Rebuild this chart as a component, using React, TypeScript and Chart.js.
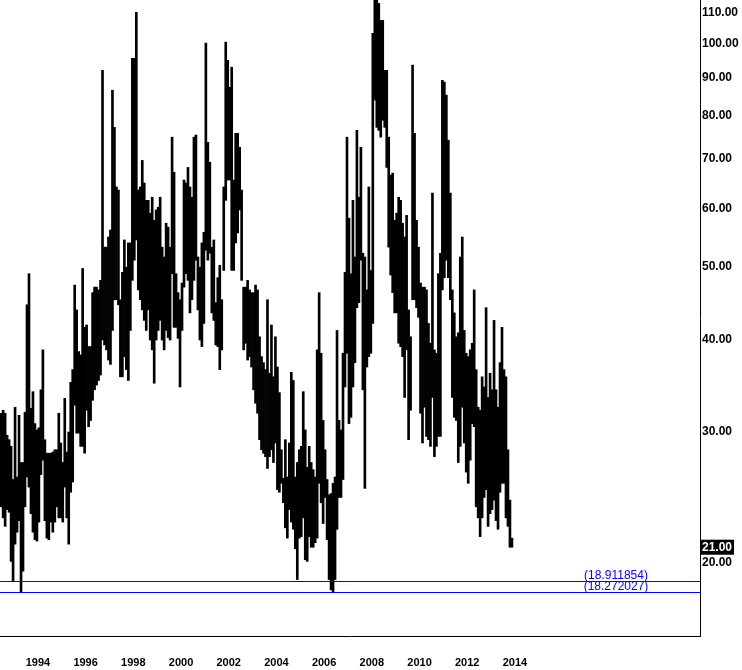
import React, { useEffect, useRef } from 'react';
import { Chart, registerables } from 'chart.js';

Chart.register(...registerables);

// Monthly high/low bars, first bar = June 1992
const startYear = 1992;
const startMonth = 6;

const highs: number[] = [
  31.8, 32.1, 31.8, 29.7, 29.3, 28.7, 25.9, 32.4, 26.1, 31.6,
  27.3, 27.3, 31.9, 44.5, 49.0, 32.3, 34.0, 30.8, 30.2, 30.4,
  34.2, 38.7, 29.3, 28.1, 28.1, 28.1, 28.2, 28.4, 28.4, 31.8,
  29.0, 27.3, 33.3, 28.2, 30.0, 35.0, 36.4, 47.3, 43.8, 38.5,
  38.1, 49.8, 41.5, 41.8, 39.1, 39.1, 46.2, 47.0, 47.0, 46.6,
  48.0, 92.0, 53.2, 53.2, 54.9, 56.1, 86.5, 77.1, 64.1, 63.5,
  45.2, 49.2, 54.4, 50.0, 53.9, 53.9, 95.5, 95.5, 110.1, 63.5,
  64.1, 69.6, 64.9, 61.5, 61.5, 59.1, 62.1, 57.8, 59.7, 60.2,
  62.1, 53.2, 51.6, 57.3, 56.6, 53.2, 74.8, 67.1, 49.0, 46.2,
  45.2, 47.6, 65.5, 64.9, 68.1, 64.1, 62.1, 74.8, 75.3, 51.6,
  50.0, 53.9, 55.7, 100.1, 73.6, 69.2, 53.2, 54.4, 44.8, 48.4,
  50.3, 45.2, 64.1, 100.4, 94.9, 87.3, 92.9, 65.5, 75.7, 75.7,
  72.5, 63.5, 47.0, 47.0, 48.0, 46.6, 46.2, 46.2, 47.3, 46.6,
  40.3, 37.9, 37.2, 36.4, 45.2, 36.0, 41.8, 35.6, 40.3, 36.7,
  33.9, 28.4, 26.0, 29.3, 26.1, 29.0, 36.1, 35.2, 26.1, 27.3,
  28.4, 28.7, 34.0, 30.2, 26.9, 28.7, 27.3, 26.7, 26.1, 38.7,
  46.2, 38.3, 31.1, 28.4, 25.9, 24.7, 24.8, 25.6, 26.1, 41.1,
  31.1, 30.2, 38.3, 49.2, 74.8, 58.2, 49.0, 61.5, 51.6, 76.4,
  62.1, 72.5, 52.2, 51.6, 46.6, 64.1, 49.5, 103.2, 116.0, 116.0,
  113.2, 107.4, 107.4, 92.0, 92.0, 74.8, 66.5, 66.9, 57.8, 59.1,
  62.1, 61.5, 57.3, 54.9, 58.7, 43.8, 40.3, 93.5, 75.7, 57.8,
  53.2, 47.6, 47.0, 47.0, 46.6, 42.0, 39.5, 62.9, 38.7, 38.3,
  49.0, 52.2, 89.2, 88.7, 85.2, 74.1, 62.9, 46.6, 43.4, 40.3,
  40.8, 51.6, 54.9, 41.1, 38.3, 37.9, 38.7, 39.5, 46.6, 36.4,
  32.4, 32.1, 35.6, 34.5, 44.1, 33.4, 36.0, 34.2, 42.4, 34.2,
  32.4, 37.2, 41.5, 36.4, 35.6, 28.4, 24.3, 21.6,
];

const lows: number[] = [
  23.8, 23.0, 22.4, 23.6, 23.4, 20.1, 18.91, 21.2, 22.0, 22.8,
  18.27, 19.5, 23.8, 26.1, 25.3, 23.3, 22.0, 21.5, 21.4, 22.7,
  26.3, 27.5, 22.8, 21.6, 21.5, 22.7, 22.0, 22.7, 23.8, 23.0,
  23.0, 22.7, 25.3, 23.0, 21.2, 24.9, 25.7, 32.6, 29.9, 29.9,
  28.7, 28.7, 28.1, 32.1, 30.5, 31.1, 33.1, 34.2, 34.7, 35.2,
  35.8, 39.9, 39.3, 38.7, 37.5, 37.0, 41.1, 45.2, 45.2, 44.5,
  35.6, 35.6, 37.9, 36.4, 35.2, 41.1, 48.0, 51.1, 54.4, 46.6,
  45.2, 43.8, 42.4, 41.1, 43.8, 39.9, 38.7, 34.9, 39.9, 41.1,
  42.4, 39.9, 38.7, 41.1, 40.2, 39.9, 49.0, 41.5, 41.5, 40.1,
  34.5, 41.1, 47.0, 49.0, 48.0, 43.4, 45.2, 48.0, 51.1, 43.8,
  39.9, 39.1, 42.0, 52.7, 51.1, 52.2, 43.4, 42.4, 39.3, 39.1,
  36.4, 38.7, 49.5, 61.5, 65.5, 65.5, 49.5, 49.5, 53.9, 55.6,
  59.7, 48.0, 38.7, 39.5, 37.5, 37.9, 36.7, 34.2, 32.8, 31.8,
  29.3, 28.4, 28.1, 27.8, 26.8, 27.8, 28.4, 27.3, 29.0, 25.1,
  24.9, 25.6, 24.1, 22.3, 21.6, 23.6, 22.7, 22.2, 20.9, 19.0,
  21.6, 21.7, 23.0, 20.2, 20.1, 21.7, 21.0, 21.0, 21.3, 21.6,
  25.6, 24.1, 22.6, 24.5, 21.5, 19.0, 18.4, 18.272, 19.0, 22.2,
  24.5, 24.5, 25.9, 34.5, 38.3, 30.8, 31.4, 34.5, 37.2, 44.1,
  44.8, 51.1, 34.2, 25.2, 36.7, 37.9, 38.3, 42.0, 83.9, 77.1,
  76.4, 74.8, 78.8, 77.1, 68.1, 53.2, 48.8, 46.2, 43.4, 43.4,
  39.5, 39.1, 37.9, 33.4, 38.7, 29.3, 32.1, 45.2, 45.2, 44.1,
  42.8, 31.8, 29.0, 32.4, 29.6, 29.3, 28.7, 33.4, 27.8, 28.7,
  29.6, 29.6, 46.6, 48.4, 51.1, 48.4, 45.2, 33.4, 31.4, 31.1,
  27.3, 28.7, 32.4, 29.0, 26.5, 25.6, 27.5, 30.8, 30.5, 23.8,
  23.0, 21.7, 23.0, 24.5, 25.1, 22.4, 23.3, 23.6, 24.3, 22.8,
  22.2, 24.9, 25.6, 25.6, 23.0, 22.4, 21.0, 21.0,
];

const yearTicks = [1994, 1996, 1998, 2000, 2002, 2004, 2006, 2008, 2010, 2012, 2014];
const priceTicks = [20, 30, 40, 50, 60, 70, 80, 90, 100, 110];
const levelValues = [18.911854, 18.272027];
const levelLabels = ['(18.911854)', '(18.272027)'];
const lastPrice = 21.0;

const xMin = 1992.41;
const xMax = 2021.76;
const yMin = 15.95;
const yMax = 114.4;

export default function App() {
  const ref = useRef<HTMLCanvasElement | null>(null);

  useEffect(() => {
    if (!ref.current) return;
    const points = highs.map((h, i) => ({
      x: startYear + (startMonth - 1 + 0.5 + i) / 12,
      y: [lows[i], h],
    }));

    const overlay = {
      id: 'overlay',
      afterDatasetsDraw(chart: any) {
        const { ctx, chartArea, scales } = chart;
        const ys = scales.y;
        ctx.save();
        levelValues.forEach((lv, k) => {
          const py = Math.round(ys.getPixelForValue(lv)) + 0.5;
          ctx.strokeStyle = '#0000ff';
          ctx.lineWidth = 1;
          ctx.beginPath();
          ctx.moveTo(chartArea.left, py);
          ctx.lineTo(chartArea.right, py);
          ctx.stroke();
          ctx.fillStyle = '#0000ff';
          ctx.font = '12px "Liberation Sans", Arial, sans-serif';
          ctx.textAlign = 'center';
          ctx.textBaseline = 'alphabetic';
          ctx.fillText(levelLabels[k], chartArea.right - 84, py - 3);
        });
        ctx.restore();
      },
      afterDraw(chart: any) {
        const { ctx, chartArea, scales } = chart;
        const py = scales.y.getPixelForValue(lastPrice);
        ctx.save();
        ctx.fillStyle = '#000';
        ctx.fillRect(chartArea.right + 1, py - 7.5, 33, 15);
        ctx.fillStyle = '#fff';
        ctx.font = 'bold 12px "Liberation Sans", Arial, sans-serif';
        ctx.textAlign = 'left';
        ctx.textBaseline = 'middle';
        ctx.fillText(lastPrice.toFixed(2), chartArea.right + 2, py + 0.5);
        ctx.restore();
      },
    };

    const chart = new Chart(ref.current, {
      type: 'bar',
      data: {
        datasets: [
          {
            data: points as any,
            backgroundColor: '#000',
            borderWidth: 0,
            barThickness: 2,
            grouped: false,
          } as any,
        ],
      },
      options: {
        responsive: false,
        animation: false,
        layout: { padding: 0 },
        plugins: { legend: { display: false }, tooltip: { enabled: false } },
        scales: {
          x: {
            type: 'linear',
            min: xMin,
            max: xMax,
            offset: false,
            grid: { display: false, drawTicks: false, offset: false },
            border: { display: true, color: '#000', width: 1 },
            afterBuildTicks: (s: any) => {
              s.ticks = yearTicks.map((v) => ({ value: v }));
            },
            afterFit: (s: any) => {
              s.height = 34;
              s.paddingLeft = 0;
              s.paddingRight = 0;
            },
            ticks: {
              autoSkip: false,
              maxRotation: 0,
              padding: 20,
              color: '#000',
              font: { family: '"Liberation Sans Narrow", "Arial Narrow", "Liberation Sans", sans-serif', size: 11, weight: 'bold' },
              callback: (v: any) => String(v),
            },
          },
          y: {
            type: 'logarithmic',
            position: 'right',
            min: yMin,
            max: yMax,
            grid: { display: false, drawTicks: false },
            border: { display: true, color: '#000', width: 1 },
            afterBuildTicks: (s: any) => {
              s.ticks = priceTicks.map((v) => ({ value: v }));
            },
            afterFit: (s: any) => {
              s.width = 42;
              s.paddingTop = 0;
              s.paddingBottom = 0;
            },
            ticks: {
              autoSkip: false,
              padding: 2,
              color: '#000',
              font: { family: '"Liberation Sans", Arial, sans-serif', size: 12, weight: 'bold' },
              callback: (v: any) => Number(v).toFixed(2),
            },
          },
        },
      } as any,
      plugins: [overlay],
    });
    return () => chart.destroy();
  }, []);

  return (
    <div style={{ position: 'absolute', left: 0, top: 0, width: 742, height: 670, background: '#fff' }}>
      <canvas ref={ref} width={742} height={670} style={{ display: 'block', width: 742, height: 670 }} />
    </div>
  );
}
